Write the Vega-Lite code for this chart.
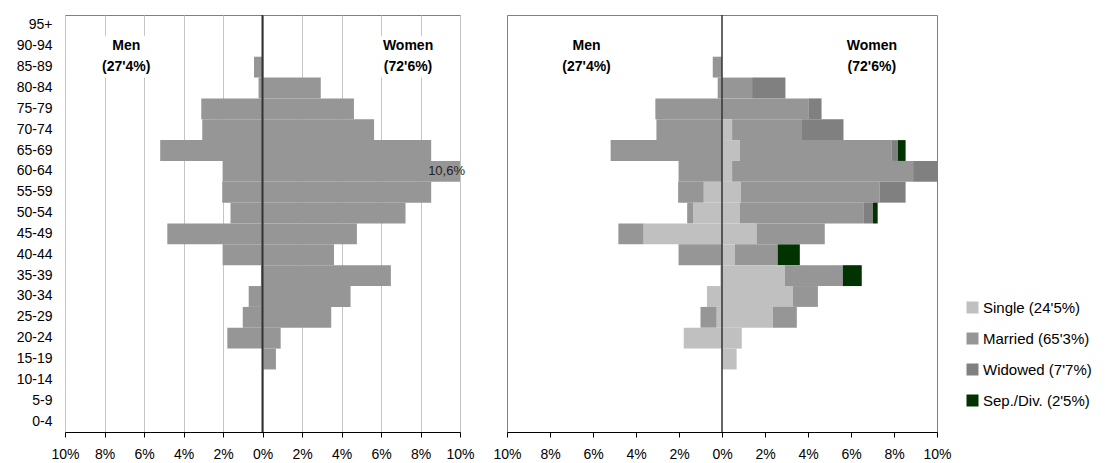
{
  "$schema": "https://vega.github.io/schema/vega-lite/v6.json",
  "autosize": {"type": "pad"},
  "padding": {"left": 15, "top": 13, "right": 5, "bottom": 5},
  "background": "white",
  "spacing": 17,
  "config": {
    "font": "Liberation Sans",
    "view": {"stroke": "#808080", "strokeWidth": 1},
    "axis": {"labelColor": "#000000", "labelFont": "Liberation Sans"}
  },
  "datasets": {
    "statusOrder": [
      {"status": "Single", "rank": 1},
      {"status": "Married", "rank": 2},
      {"status": "Widowed", "rank": 3},
      {"status": "Sep./Div.", "rank": 4}
    ],
    "pop": [
      {"age": "85-89", "sex": "Men", "status": "Married", "pct": -0.43},
      {"age": "80-84", "sex": "Men", "status": "Married", "pct": -0.2},
      {"age": "75-79", "sex": "Men", "status": "Married", "pct": -3.1},
      {"age": "70-74", "sex": "Men", "status": "Married", "pct": -3.05},
      {"age": "65-69", "sex": "Men", "status": "Married", "pct": -5.18},
      {"age": "60-64", "sex": "Men", "status": "Married", "pct": -2.02},
      {"age": "55-59", "sex": "Men", "status": "Single", "pct": -0.85},
      {"age": "55-59", "sex": "Men", "status": "Married", "pct": -1.19},
      {"age": "50-54", "sex": "Men", "status": "Single", "pct": -1.34},
      {"age": "50-54", "sex": "Men", "status": "Married", "pct": -0.28},
      {"age": "45-49", "sex": "Men", "status": "Single", "pct": -3.65},
      {"age": "45-49", "sex": "Men", "status": "Married", "pct": -1.17},
      {"age": "40-44", "sex": "Men", "status": "Married", "pct": -2.02},
      {"age": "35-39", "sex": "Men", "status": "Single", "pct": -0.08},
      {"age": "30-34", "sex": "Men", "status": "Single", "pct": -0.7},
      {"age": "25-29", "sex": "Men", "status": "Single", "pct": -0.25},
      {"age": "25-29", "sex": "Men", "status": "Married", "pct": -0.75},
      {"age": "20-24", "sex": "Men", "status": "Single", "pct": -1.78},
      {"age": "80-84", "sex": "Women", "status": "Married", "pct": 1.4},
      {"age": "80-84", "sex": "Women", "status": "Widowed", "pct": 1.55},
      {"age": "75-79", "sex": "Women", "status": "Married", "pct": 4.04},
      {"age": "75-79", "sex": "Women", "status": "Widowed", "pct": 0.59},
      {"age": "70-74", "sex": "Women", "status": "Single", "pct": 0.47},
      {"age": "70-74", "sex": "Women", "status": "Married", "pct": 3.25},
      {"age": "70-74", "sex": "Women", "status": "Widowed", "pct": 1.93},
      {"age": "65-69", "sex": "Women", "status": "Single", "pct": 0.82},
      {"age": "65-69", "sex": "Women", "status": "Married", "pct": 7.08},
      {"age": "65-69", "sex": "Women", "status": "Widowed", "pct": 0.28},
      {"age": "65-69", "sex": "Women", "status": "Sep./Div.", "pct": 0.36},
      {"age": "60-64", "sex": "Women", "status": "Single", "pct": 0.47},
      {"age": "60-64", "sex": "Women", "status": "Married", "pct": 8.42},
      {"age": "60-64", "sex": "Women", "status": "Widowed", "pct": 1.71},
      {"age": "55-59", "sex": "Women", "status": "Single", "pct": 0.87},
      {"age": "55-59", "sex": "Women", "status": "Married", "pct": 6.47},
      {"age": "55-59", "sex": "Women", "status": "Widowed", "pct": 1.2},
      {"age": "50-54", "sex": "Women", "status": "Single", "pct": 0.82},
      {"age": "50-54", "sex": "Women", "status": "Married", "pct": 5.78},
      {"age": "50-54", "sex": "Women", "status": "Widowed", "pct": 0.42},
      {"age": "50-54", "sex": "Women", "status": "Sep./Div.", "pct": 0.22},
      {"age": "45-49", "sex": "Women", "status": "Single", "pct": 1.61},
      {"age": "45-49", "sex": "Women", "status": "Married", "pct": 3.17},
      {"age": "40-44", "sex": "Women", "status": "Single", "pct": 0.59},
      {"age": "40-44", "sex": "Women", "status": "Married", "pct": 2.0},
      {"age": "40-44", "sex": "Women", "status": "Sep./Div.", "pct": 1.03},
      {"age": "35-39", "sex": "Women", "status": "Single", "pct": 2.92},
      {"age": "35-39", "sex": "Women", "status": "Married", "pct": 2.7},
      {"age": "35-39", "sex": "Women", "status": "Sep./Div.", "pct": 0.88},
      {"age": "30-34", "sex": "Women", "status": "Single", "pct": 3.29},
      {"age": "30-34", "sex": "Women", "status": "Married", "pct": 1.17},
      {"age": "25-29", "sex": "Women", "status": "Single", "pct": 2.36},
      {"age": "25-29", "sex": "Women", "status": "Married", "pct": 1.12},
      {"age": "20-24", "sex": "Women", "status": "Single", "pct": 0.92},
      {"age": "15-19", "sex": "Women", "status": "Single", "pct": 0.68}
    ]
  },
  "hconcat": [
    {
      "width": 395,
      "height": 417,
      "layer": [
        {
          "data": {"name": "pop"},
          "transform": [
            {"aggregate": [{"op": "sum", "field": "pct", "as": "total"}], "groupby": ["age", "sex"]}
          ],
          "mark": {"type": "bar", "color": "#969696", "clip": true},
          "encoding": {
            "y": {
              "field": "age", "type": "nominal",
              "scale": {"domain": ["95+","90-94","85-89","80-84","75-79","70-74","65-69","60-64","55-59","50-54","45-49","40-44","35-39","30-34","25-29","20-24","15-19","10-14","5-9","0-4"], "paddingInner": 0, "paddingOuter": 0},
              "axis": {"title": null, "ticks": false, "domain": false, "labelFontSize": 14, "labelPadding": 13}
            },
            "x": {
              "field": "total", "type": "quantitative",
              "scale": {"domain": [-10, 10], "nice": false},
              "axis": {
                "title": null, "values": [-10,-8,-6,-4,-2,0,2,4,6,8,10], "tickCount": 20,
                "labelExpr": "abs(datum.value) + '%'",
                "labelFontSize": 14, "labelPadding": 10, "labelOverlap": false,
                "tickSize": 5, "tickColor": "#000000", "domainColor": "#000000",
                "gridColor": "#c4c4c4", "labelFlush": false
              }
            }
          }
        },
        {
          "data": {"values": [{"age": "90-94", "label": "Men"}, {"age": "85-89", "label": "(27'4%)"}]},
          "layer": [
            {"mark": {"type": "bar", "color": "white"}, "encoding": {"y": {"field": "age", "type": "nominal"}, "x": {"datum": -8.3}, "x2": {"datum": -5.5}}},
            {"mark": {"type": "text", "fontSize": 14, "fontWeight": "bold", "color": "#000000"}, "encoding": {"y": {"field": "age", "type": "nominal"}, "x": {"datum": -6.9}, "text": {"field": "label"}}}
          ]
        },
        {
          "data": {"values": [{"age": "90-94", "label": "Women"}, {"age": "85-89", "label": "(72'6%)"}]},
          "layer": [
            {"mark": {"type": "bar", "color": "white"}, "encoding": {"y": {"field": "age", "type": "nominal"}, "x": {"datum": 5.7}, "x2": {"datum": 9.1}}},
            {"mark": {"type": "text", "fontSize": 14, "fontWeight": "bold", "color": "#000000"}, "encoding": {"y": {"field": "age", "type": "nominal"}, "x": {"datum": 7.37}, "text": {"field": "label"}}}
          ]
        },
        {
          "data": {"name": "pop"},
          "transform": [
            {"filter": "datum.sex == 'Women' && datum.age == '60-64'"},
            {"aggregate": [{"op": "sum", "field": "pct", "as": "total"}], "groupby": ["age"]}
          ],
          "mark": {"type": "text", "align": "right", "dx": 5, "fontSize": 13, "color": "#222222", "text": "10,6%"},
          "encoding": {"y": {"field": "age", "type": "nominal"}, "x": {"datum": 10}}
        },
        {
          "data": {"values": [{"sex": "Men"}]},
          "mark": {"type": "rule", "color": "#333333", "strokeWidth": 2},
          "encoding": {"x": {"datum": 0}}
        }
      ]
    },
    {
      "width": 430,
      "height": 417,
      "layer": [
        {
          "data": {"values": [{"age": "90-94", "label": "Men"}, {"age": "85-89", "label": "(27'4%)"}]},
          "layer": [
            {"mark": {"type": "bar", "color": "white"}, "encoding": {"y": {"field": "age", "type": "nominal", "scale": {"domain": ["95+","90-94","85-89","80-84","75-79","70-74","65-69","60-64","55-59","50-54","45-49","40-44","35-39","30-34","25-29","20-24","15-19","10-14","5-9","0-4"], "paddingInner": 0, "paddingOuter": 0}, "axis": null}, "x": {"datum": -7.8, "scale": {"domain": [-10, 10], "nice": false}}, "x2": {"datum": -4.8}}},
            {"mark": {"type": "text", "fontSize": 14, "fontWeight": "bold", "color": "#000000"}, "encoding": {"y": {"field": "age", "type": "nominal"}, "x": {"datum": -6.3}, "text": {"field": "label"}}}
          ]
        },
        {
          "data": {"values": [{"age": "90-94", "label": "Women"}, {"age": "85-89", "label": "(72'6%)"}]},
          "layer": [
            {"mark": {"type": "bar", "color": "white"}, "encoding": {"y": {"field": "age", "type": "nominal"}, "x": {"datum": 5.45}, "x2": {"datum": 8.6}}},
            {"mark": {"type": "text", "fontSize": 14, "fontWeight": "bold", "color": "#000000"}, "encoding": {"y": {"field": "age", "type": "nominal"}, "x": {"datum": 6.97}, "text": {"field": "label"}}}
          ]
        },
        {
          "data": {"name": "pop"},
          "transform": [
            {"lookup": "status", "from": {"data": {"name": "statusOrder"}, "key": "status", "fields": ["rank"]}}
          ],
          "mark": {"type": "bar", "clip": true},
          "encoding": {
            "y": {"field": "age", "type": "nominal"},
            "x": {
              "field": "pct", "type": "quantitative", "stack": "zero",
              "axis": {
                "title": null, "values": [-10,-8,-6,-4,-2,0,2,4,6,8,10], "tickCount": 20,
                "labelExpr": "abs(datum.value) + '%'",
                "labelFontSize": 14, "labelPadding": 10, "labelOverlap": false,
                "tickSize": 5, "tickColor": "#000000", "domainColor": "#000000",
                "gridColor": "#a8a8a8", "labelFlush": false
              }
            },
            "order": {"field": "rank", "type": "quantitative", "sort": "ascending"},
            "color": {
              "field": "status", "type": "nominal",
              "scale": {"domain": ["Single", "Married", "Widowed", "Sep./Div."], "range": ["#c0c0c0", "#969696", "#808080", "#003300"]},
              "legend": {
                "title": null, "orient": "none", "legendX": 900, "legendY": 285,
                "symbolType": "square", "symbolSize": 144, "symbolStrokeWidth": 0,
                "labelFontSize": 15, "labelColor": "#000000", "labelOffset": 3, "rowPadding": 15,
                "labelExpr": "datum.label == 'Single' ? \"Single (24'5%)\" : datum.label == 'Married' ? \"Married (65'3%)\" : datum.label == 'Widowed' ? \"Widowed (7'7%)\" : \"Sep./Div. (2'5%)\""
              }
            }
          }
        },
        {
          "data": {"values": [{"sex": "Men"}]},
          "mark": {"type": "rule", "color": "#333333", "strokeWidth": 1.5},
          "encoding": {"x": {"datum": 0}}
        }
      ]
    }
  ]
}
